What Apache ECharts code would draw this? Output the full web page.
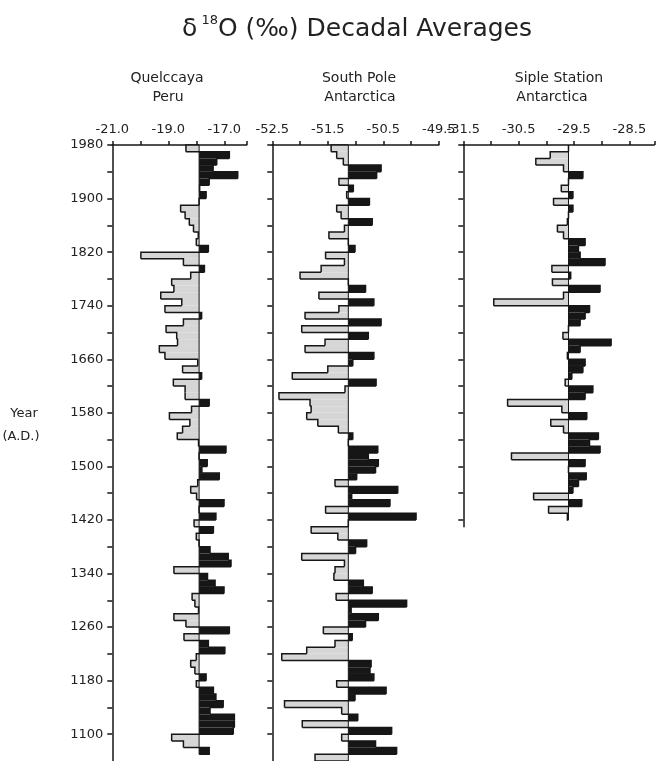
<!DOCTYPE html>
<html><head><meta charset="utf-8">
<script src="https://cdn.jsdelivr.net/npm/echarts@6/dist/echarts.min.js"></script>
<style>html,body{margin:0;padding:0;background:#fff}#c{width:668px;height:761px}</style>
</head><body><div id="c"></div>
<script>
// ---- Data (decade start years, top to bottom) ----
const quelYears = [1970,1960,1950,1940,1930,1920,1910,1900,1890,1880,1870,1860,1850,1840,1830,1820,1810,1800,1790,1780,1770,1760,1750,1740,1730,1720,1710,1700,1690,1680,1670,1660,1650,1640,1630,1620,1610,1600,1590,1580,1570,1560,1550,1540,1530,1520,1510,1500,1490,1480,1470,1460,1450,1440,1430,1420,1410,1400,1390,1380,1370,1360,1350,1340,1330,1320,1310,1300,1290,1280,1270,1260,1250,1240,1230,1220,1210,1200,1190,1180,1170,1160,1150,1140,1130,1120,1110,1100,1090,1080,1070];
const quelValues = [-18.37,-16.82,-17.27,-17.40,-16.52,-17.54,-17.88,-17.65,-17.90,-18.56,
-18.40,-18.25,-18.10,-17.93,-18.00,-17.57,-19.98,-18.46,-17.71,-18.20,
-18.88,-18.80,-19.27,-18.52,-19.12,-17.81,-18.46,-19.08,-18.70,-18.67,
-19.32,-19.12,-17.95,-18.49,-17.81,-18.82,-18.40,-18.40,-17.54,-18.17,
-18.96,-18.23,-18.49,-18.68,-17.92,-16.94,-17.90,-17.61,-17.80,-17.18,
-17.95,-18.20,-17.99,-17.01,-17.90,-17.30,-18.08,-17.39,-18.00,-17.90,
-17.51,-16.86,-16.76,-18.80,-17.60,-17.33,-17.01,-18.15,-18.05,-17.92,
-18.80,-18.37,-16.82,-18.44,-17.57,-16.98,-18.00,-18.20,-18.05,-17.65,
-18.00,-17.39,-17.30,-17.04,-17.51,-16.64,-16.64,-16.68,-18.88,-18.46,
-17.54];
const quelRef = -17.9;

const spYears = [1970,1960,1950,1940,1930,1920,1910,1900,1890,1880,1870,1860,1850,1840,1830,1820,1810,1800,1790,1780,1770,1760,1750,1740,1730,1720,1710,1700,1690,1680,1670,1660,1650,1640,1630,1620,1610,1600,1590,1580,1570,1560,1550,1540,1530,1520,1510,1500,1490,1480,1470,1460,1450,1440,1430,1420,1410,1400,1390,1380,1370,1360,1350,1340,1330,1320,1310,1300,1290,1280,1270,1260,1250,1240,1230,1220,1210,1200,1190,1180,1170,1160,1150,1140,1130,1120,1110,1100,1090,1080,1070,1060];
const spValues = [-51.44,-51.34,-51.22,-50.54,-50.62,-51.30,-51.04,-51.16,-50.75,-51.34,
-51.26,-50.70,-51.20,-51.48,-51.13,-51.01,-51.54,-51.20,-51.62,-52.00,
-51.13,-50.82,-51.66,-50.67,-51.30,-51.91,-50.54,-51.97,-50.77,-51.55,
-51.91,-50.67,-51.05,-51.50,-52.14,-50.63,-51.19,-52.38,-51.82,-51.80,
-51.88,-51.68,-51.31,-51.05,-51.13,-50.60,-50.77,-50.59,-50.64,-50.98,
-51.37,-50.24,-51.07,-50.38,-51.54,-49.91,-51.13,-51.80,-51.32,-50.80,
-51.00,-51.97,-51.20,-51.37,-51.39,-50.86,-50.70,-51.35,-50.08,-51.08,
-50.59,-50.82,-51.58,-51.06,-51.37,-51.88,-52.33,-50.72,-50.74,-50.67,
-51.34,-50.45,-51.01,-52.28,-51.25,-50.96,-51.96,-50.35,-51.25,-50.64,
-50.26,-51.73];
const spRef = -51.13;

const sipleYears = [1970,1960,1950,1940,1930,1920,1910,1900,1890,1880,1870,1860,1850,1840,1830,1820,1810,1800,1790,1780,1770,1760,1750,1740,1730,1720,1710,1700,1690,1680,1670,1660,1650,1640,1630,1620,1610,1600,1590,1580,1570,1560,1550,1540,1530,1520,1510,1500,1490,1480,1470,1460,1450,1440,1430,1420];
const sipleValues = [-29.60,-29.93,-30.19,-29.69,-29.34,-29.60,-29.73,-29.52,-29.87,-29.52,
-29.60,-29.62,-29.80,-29.69,-29.30,-29.42,-29.39,-28.94,-29.90,-29.56,
-29.89,-29.03,-29.69,-30.95,-29.22,-29.30,-29.39,-29.60,-29.70,-28.83,
-29.39,-29.62,-29.30,-29.34,-29.54,-29.66,-29.16,-29.30,-30.70,-29.72,
-29.27,-29.92,-29.69,-29.06,-29.22,-29.03,-30.63,-29.30,-29.60,-29.28,
-29.42,-29.52,-30.23,-29.36,-29.96,-29.62];
const sipleRef = -29.60;

// ---- Tick labels ----
const yearTicks = [1980,1940,1900,1860,1820,1780,1740,1700,1660,1620,1580,1540,1500,1460,1420,1380,1340,1300,1260,1220,1180,1140,1100];
const yearLabels = [1980,1900,1820,1740,1660,1580,1500,1420,1340,1260,1180,1100];
const sipleYearTicks = [1980,1940,1900,1860,1820,1780,1740,1700,1660,1620,1580,1540,1500,1460,1420];
const quelTicks = [-21,-20,-19,-18,-17,-16.2];
const quelLabels = [-21,-19,-17];
const spTicks = [-52.5,-52,-51.5,-51,-50.5,-50,-49.5];
const spLabels = [-52.5,-51.5,-50.5,-49.5];
const sipleTicks = [-31.5,-31,-30.5,-30,-29.5,-29,-28.5,-28.05];
const sipleLabels = [-31.5,-30.5,-29.5,-28.5];

const FONT = 'DejaVu Sans';
const INK = '#161616';
const GRAY = '#d6d6d6';

function buildData(years, values, ref) {
  return years.map((y, i) => [y, values[i], i === 0 ? ref : values[i - 1]]);
}
function renderer(ref, lastIndex) {
  return function (params, api) {
    const yr = api.value(0), v = api.value(1), prev = api.value(2);
    const top = api.coord([v, yr + 10]);
    const bot = api.coord([v, yr]);
    const rTop = api.coord([ref, yr + 10]);
    const pTop = api.coord([prev, yr + 10]);
    const x0 = Math.min(rTop[0], top[0]), x1 = Math.max(rTop[0], top[0]);
    const pts = [pTop, top, bot];
    if (params.dataIndex === lastIndex) pts.push(api.coord([ref, yr]));
    return {
      type: 'group',
      children: [
        { type: 'rect', shape: { x: x0, y: top[1], width: x1 - x0, height: bot[1] - top[1] },
          style: { fill: v > ref ? INK : GRAY } },
        { type: 'polyline', shape: { points: pts },
          style: { stroke: INK, lineWidth: 1.5, fill: 'none' } }
      ]
    };
  };
}

const PX_PER_YEAR = 616 / 920;
const grids = [
  { left: 112.3, width: 134.4, top: 145, height: 616 },
  { left: 272.3, width: 166.5, top: 145, height: 616 },
  { left: 463.3, width: 191, top: 145, height: (1980 - 1410) * PX_PER_YEAR }
];
function xAxis(idx, min, max, ticks, labels) {
  return {
    gridIndex: idx, type: 'value', position: 'top', min: min, max: max,
    axisLine: { show: true, onZero: false, lineStyle: { color: INK, width: 1.5 } },
    axisTick: { show: true, length: 4, customValues: ticks, lineStyle: { color: INK, width: 1.5 } },
    axisLabel: { customValues: labels, formatter: v => Number(v).toFixed(1), margin: 9,
      fontFamily: FONT, fontSize: 13, color: '#222' },
    splitLine: { show: false }
  };
}
function yAxis(idx, min, ticks, labels) {
  return {
    gridIndex: idx, type: 'value', min: min, max: 1980,
    axisLine: { show: true, onZero: false, lineStyle: { color: INK, width: 1.5 } },
    axisTick: { show: true, length: 5, customValues: ticks, lineStyle: { color: INK, width: 1.5 } },
    axisLabel: { show: !!labels, customValues: labels || [], margin: 9,
      formatter: v => String(Math.round(v)),
      fontFamily: FONT, fontSize: 13, color: '#222' },
    splitLine: { show: false }
  };
}
function barSeries(idx, years, values, ref) {
  return {
    type: 'custom', xAxisIndex: idx, yAxisIndex: idx, z: 2,
    encode: { x: 1, y: 0 },
    data: buildData(years, values, ref),
    renderItem: renderer(ref, years.length - 1),
    silent: true
  };
}
function refSeries(idx, years, ref) {
  return {
    type: 'line', xAxisIndex: idx, yAxisIndex: idx, z: 3, symbol: 'none', silent: true,
    data: [[ref, years[0] + 10], [ref, years[years.length - 1]]],
    lineStyle: { color: INK, width: 1 }
  };
}

const chart = echarts.init(document.getElementById('c'), null, { renderer: 'canvas' });
chart.setOption({
  backgroundColor: '#ffffff',
  animation: false,
  grid: grids,
  xAxis: [
    xAxis(0, -21, -16.2, quelTicks, quelLabels),
    xAxis(1, -52.5, -49.5, spTicks, spLabels),
    xAxis(2, -31.5, -28.05, sipleTicks, sipleLabels)
  ],
  yAxis: [
    yAxis(0, 1060, yearTicks, yearLabels),
    yAxis(1, 1060, yearTicks, null),
    yAxis(2, 1410, sipleYearTicks, null)
  ],
  series: [
    barSeries(0, quelYears, quelValues, quelRef),
    refSeries(0, quelYears, quelRef),
    barSeries(1, spYears, spValues, spRef),
    refSeries(1, spYears, spRef),
    barSeries(2, sipleYears, sipleValues, sipleRef),
    refSeries(2, sipleYears, sipleRef)
  ],
  graphic: [
    { type: 'text', x: 357, y: 29, style: {
        text: '{a|δ}{b| 18}{a|O (‰) Decadal Averages}', align: 'center', verticalAlign: 'middle',
        rich: { a: { fontFamily: FONT, fontSize: 25, lineHeight: 30, fill: '#222' },
                b: { fontFamily: FONT, fontSize: 13, lineHeight: 30, verticalAlign: 'top', fill: '#222' } } } },
    { type: 'text', x: 167, y: 78, style: { text: 'Quelccaya', align: 'center', verticalAlign: 'middle', font: '14px "DejaVu Sans"', fill: '#222' } },
    { type: 'text', x: 168, y: 97, style: { text: 'Peru', align: 'center', verticalAlign: 'middle', font: '14px "DejaVu Sans"', fill: '#222' } },
    { type: 'text', x: 359, y: 78, style: { text: 'South Pole', align: 'center', verticalAlign: 'middle', font: '14px "DejaVu Sans"', fill: '#222' } },
    { type: 'text', x: 360, y: 97, style: { text: 'Antarctica', align: 'center', verticalAlign: 'middle', font: '14px "DejaVu Sans"', fill: '#222' } },
    { type: 'text', x: 559, y: 78, style: { text: 'Siple Station', align: 'center', verticalAlign: 'middle', font: '14px "DejaVu Sans"', fill: '#222' } },
    { type: 'text', x: 552, y: 97, style: { text: 'Antarctica', align: 'center', verticalAlign: 'middle', font: '14px "DejaVu Sans"', fill: '#222' } },
    { type: 'text', x: 24, y: 414, style: { text: 'Year', align: 'center', verticalAlign: 'middle', font: '13px "DejaVu Sans"', fill: '#222' } },
    { type: 'text', x: 21, y: 437, style: { text: '(A.D.)', align: 'center', verticalAlign: 'middle', font: '13px "DejaVu Sans"', fill: '#222' } }
  ]
});
</script>
</body></html>
